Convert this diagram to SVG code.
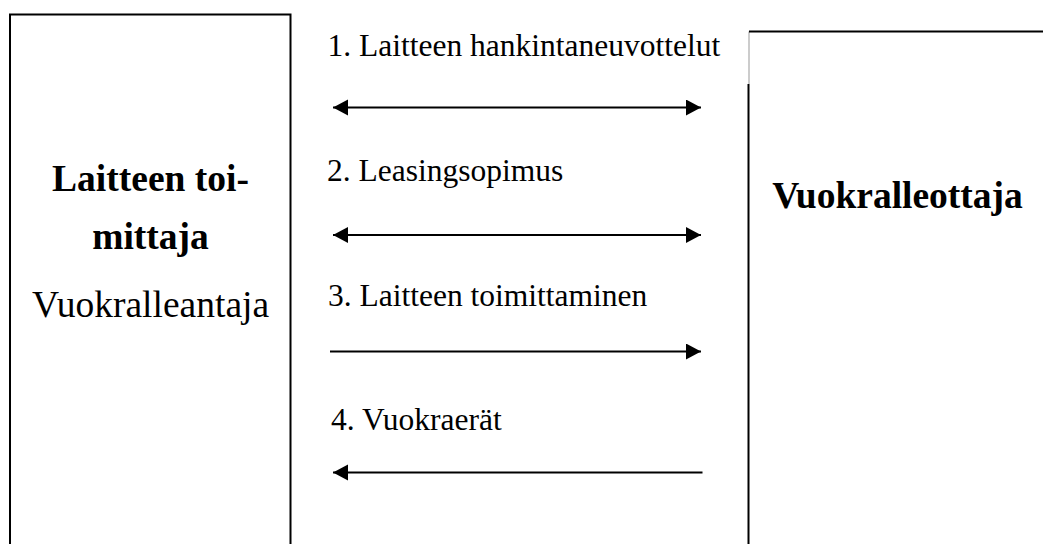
<svg xmlns="http://www.w3.org/2000/svg" width="1043" height="544" viewBox="0 0 1043 544">
  <style>
    .box { fill: none; stroke: #000; stroke-width: 2; }
    .link { stroke: #000; stroke-width: 2; fill: none; }
    .lbl { font-family: "Liberation Serif", "Times New Roman", serif; font-size: 31.5px; fill: #000; }
    .title { font-family: "Liberation Serif", "Times New Roman", serif; font-size: 37.5px; fill: #000; text-anchor: middle; }
    .bold { font-weight: bold; }
  </style>
  <defs>
    <marker id="head" markerUnits="userSpaceOnUse" markerWidth="16" markerHeight="18" refX="15" refY="8" orient="auto-start-reverse">
      <path d="M0,0 L15,8 L0,16 Z" fill="#000"/>
    </marker>
  </defs>

  <rect width="1043" height="544" fill="#fff"/>

  <!-- supplier / lessor -->
  <g id="lessor">
    <path class="box" d="M10,560 V14.5 H290.5 V560"/>
    <text class="title bold" x="150.5" y="191">Laitteen toi-</text>
    <text class="title bold" x="150.5" y="249">mittaja</text>
    <text class="title" x="150.5" y="317">Vuokralleantaja</text>
  </g>

  <!-- lessee -->
  <g id="lessee">
    <path d="M749,31.5 V84" stroke="#999" stroke-width="1" fill="none"/>
    <path class="box" d="M748.5,84 V560"/>
    <path class="box" d="M749,31.5 H1060"/>
    <text class="title bold" x="897.5" y="208">Vuokralleottaja</text>
  </g>

  <!-- flows between the parties -->
  <g id="connectors">
    <line class="link" x1="333" y1="107.5" x2="701" y2="107.5" marker-start="url(#head)" marker-end="url(#head)"/>
    <line class="link" x1="333" y1="235" x2="701" y2="235" marker-start="url(#head)" marker-end="url(#head)"/>
    <line class="link" x1="330" y1="351.5" x2="701" y2="351.5" marker-end="url(#head)"/>
    <line class="link" x1="702.5" y1="472.5" x2="333" y2="472.5" marker-end="url(#head)"/>
  </g>

  <g id="labels">
    <text class="lbl" x="327.5" y="56">1. Laitteen hankintaneuvottelut</text>
    <text class="lbl" x="327" y="181">2. Leasingsopimus</text>
    <text class="lbl" x="328" y="306">3. Laitteen toimittaminen</text>
    <text class="lbl" x="331" y="430">4. Vuokraerät</text>
  </g>
</svg>
